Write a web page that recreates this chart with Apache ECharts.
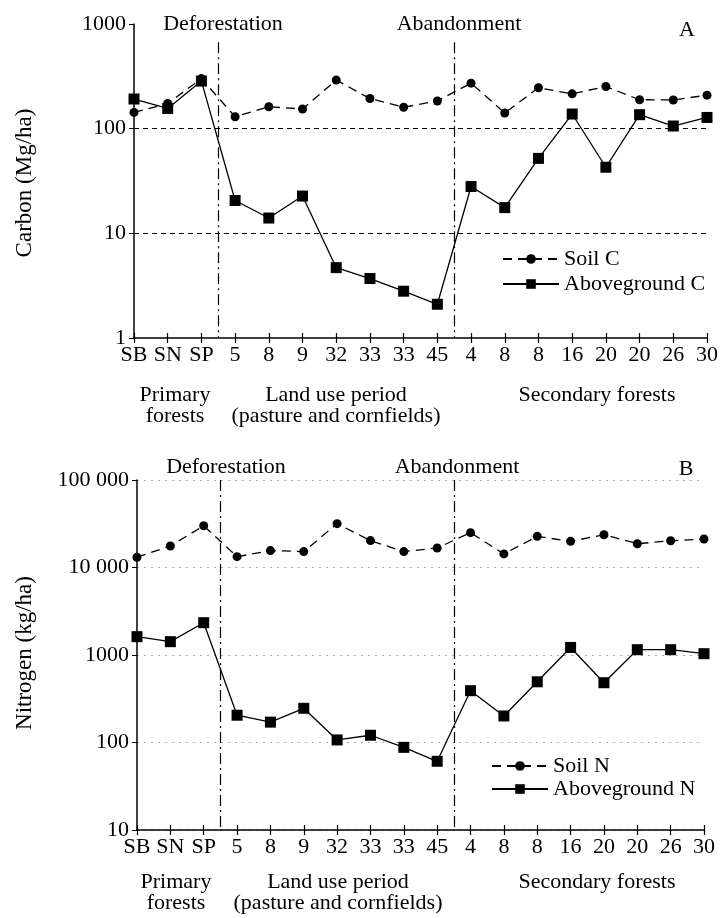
<!DOCTYPE html>
<html>
<head>
<meta charset="utf-8">
<script src="https://cdn.jsdelivr.net/npm/echarts@6/dist/echarts.min.js"></script>
<style>
  html, body { margin: 0; padding: 0; background: #fff; }
  #main { width: 722px; height: 918px; }
</style>
</head>
<body>
<div id="main"></div>
<script>
// site ages / forest types along the chronosequence
var cats = ['SB', 'SN', 'SP', '5', '8', '9', '32', '33', '33', '45', '4', '8', '8', '16', '20', '20', '26', '30'];

// panel A, carbon (Mg/ha)
var soilC = [143, 174, 301, 130, 162, 154, 291, 194, 160, 184, 272, 141, 246, 215, 253, 189, 188, 209];
var aboveC = [192, 156, 285, 20.6, 14, 22.7, 4.7, 3.7, 2.8, 2.1, 28, 17.6, 52, 138, 42.8, 136, 106, 128];

// panel B, nitrogen (kg/ha)
var soilN = [13100, 17600, 30000, 13300, 15600, 15200, 31700, 20300, 15200, 16700, 25000, 14300, 22700, 19900, 23700, 18700, 20200, 21200];
var aboveN = [1620, 1420, 2340, 205, 171, 246, 107, 121, 88, 61, 391, 201, 494, 1220, 482, 1150, 1150, 1035];

// boundaries between periods (between category indexes)
var deforestAt = 2.5;
var abandonAt = 9.5;

var FONT = 'Liberation Serif';
var FS = 22;

function pairs(arr) {
    return arr.map(function (v, i) { return [i, v]; });
}

// 10 000 style, but 1000 stays plain
function spaced(v) {
    if (v >= 10000) return String(v).replace(/\B(?=(\d{3})+(?!\d))/g, ' ');
    return String(v);
}

function xAxisMain(gi) {
    return {
        gridIndex: gi,
        type: 'value',
        min: 0,
        max: cats.length - 1,
        interval: 1,
        position: 'bottom',
        axisLine: { show: true, lineStyle: { color: '#000', width: 1.5 } },
        axisTick: { show: true, length: 5, lineStyle: { color: '#000', width: 1.2 } },
        axisLabel: {
            margin: 6,
            color: '#000',
            fontFamily: FONT,
            fontSize: FS,
            formatter: function (v) { return cats[v]; }
        },
        splitLine: { show: false }
    };
}

// second axis on the same line, only for the ticks pointing up
function xAxisInner(gi) {
    return {
        gridIndex: gi,
        type: 'value',
        min: 0,
        max: cats.length - 1,
        interval: 1,
        position: 'bottom',
        axisLine: { show: false },
        axisTick: { show: true, inside: true, length: 5, lineStyle: { color: '#000', width: 1.2 } },
        axisLabel: { show: false },
        splitLine: { show: false }
    };
}

var dashDot = [11, 4, 2, 4];
var titleStyle = { fontFamily: FONT, fontSize: FS, fontWeight: 'normal', color: '#000' };

var option = {
    backgroundColor: '#fff',
    animation: false,
    textStyle: { fontFamily: FONT, color: '#000' },
    grid: [
        { left: 134, top: 24, right: 15, height: 314 },
        { left: 137, top: 480, right: 18, height: 350 }
    ],
    title: [
        { text: 'Deforestation', left: 218, top: 8, textAlign: 'center', textStyle: titleStyle },
        { text: 'Abandonment', left: 454, top: 8, textAlign: 'center', textStyle: titleStyle },
        { text: 'A', left: 682, top: 14, textAlign: 'center', textStyle: titleStyle },
        { text: 'Deforestation', left: 221, top: 451, textAlign: 'center', textStyle: titleStyle },
        { text: 'Abandonment', left: 452, top: 451, textAlign: 'center', textStyle: titleStyle },
        { text: 'B', left: 681, top: 453, textAlign: 'center', textStyle: titleStyle }
    ],
    legend: [
        {
            data: ['Soil C', 'Aboveground C'],
            orient: 'vertical',
            left: 497,
            top: 243,
            itemWidth: 56,
            itemHeight: 12,
            itemGap: 3,
            textStyle: { fontFamily: FONT, fontSize: FS, color: '#000' }
        },
        {
            data: ['Soil N', 'Aboveground N'],
            orient: 'vertical',
            left: 486,
            top: 750,
            itemWidth: 56,
            itemHeight: 12,
            itemGap: 1,
            textStyle: { fontFamily: FONT, fontSize: FS, color: '#000' }
        }
    ],
    xAxis: [xAxisMain(0), xAxisInner(0), xAxisMain(1), xAxisInner(1)],
    yAxis: [
        {
            gridIndex: 0,
            type: 'log',
            logBase: 10,
            min: 1,
            max: 1000,
            axisLine: { show: true, lineStyle: { color: '#000', width: 1.5 } },
            axisTick: { show: true, length: 5, lineStyle: { color: '#000' } },
            axisLabel: { margin: 8, color: '#000', fontFamily: FONT, fontSize: FS, formatter: spaced },
            splitLine: { show: false }
        },
        {
            gridIndex: 1,
            type: 'log',
            logBase: 10,
            min: 10,
            max: 100000,
            axisLine: { show: true, lineStyle: { color: '#000', width: 1.5 } },
            axisTick: { show: true, length: 5, lineStyle: { color: '#000' } },
            axisLabel: { margin: 8, color: '#000', fontFamily: FONT, fontSize: FS, formatter: spaced },
            splitLine: { show: true, lineStyle: { color: '#aaa', width: 1, type: [2, 5] } }
        }
    ],
    graphic: [
        { type: 'text', x: 25, y: 183, rotation: Math.PI / 2, style: { text: 'Carbon (Mg/ha)', font: '23px ' + FONT, fill: '#000', align: 'center', verticalAlign: 'middle' } },
        { type: 'text', x: 25, y: 653, rotation: Math.PI / 2, style: { text: 'Nitrogen (kg/ha)', font: '23px ' + FONT, fill: '#000', align: 'center', verticalAlign: 'middle' } },

        { type: 'text', x: 175, y: 385, style: { text: 'Primary\nforests', font: FS + 'px ' + FONT, fill: '#000', align: 'center', lineHeight: 21 } },
        { type: 'text', x: 336, y: 385, style: { text: 'Land use period\n(pasture and cornfields)', font: FS + 'px ' + FONT, fill: '#000', align: 'center', lineHeight: 21 } },
        { type: 'text', x: 597, y: 385, style: { text: 'Secondary forests', font: FS + 'px ' + FONT, fill: '#000', align: 'center', lineHeight: 21 } },

        { type: 'text', x: 176, y: 872, style: { text: 'Primary\nforests', font: FS + 'px ' + FONT, fill: '#000', align: 'center', lineHeight: 21 } },
        { type: 'text', x: 338, y: 872, style: { text: 'Land use period\n(pasture and cornfields)', font: FS + 'px ' + FONT, fill: '#000', align: 'center', lineHeight: 21 } },
        { type: 'text', x: 597, y: 872, style: { text: 'Secondary forests', font: FS + 'px ' + FONT, fill: '#000', align: 'center', lineHeight: 21 } }
    ],
    series: [
        {
            name: 'Soil C',
            type: 'line',
            xAxisIndex: 0,
            yAxisIndex: 0,
            data: pairs(soilC),
            symbol: 'circle',
            symbolSize: 9,
            itemStyle: { color: '#000' },
            lineStyle: { color: '#000', width: 1.3, type: [9, 6] },
            z: 3,
            markLine: {
                silent: true,
                symbol: 'none',
                label: { show: false },
                animation: false,
                data: [
                    [{ coord: [deforestAt, 670], lineStyle: { type: dashDot, width: 1.2, color: '#000' } }, { coord: [deforestAt, 1] }],
                    [{ coord: [abandonAt, 670], lineStyle: { type: dashDot, width: 1.2, color: '#000' } }, { coord: [abandonAt, 1] }],
                    { yAxis: 100, lineStyle: { type: [5, 4], width: 1.2, color: '#000' } },
                    { yAxis: 10, lineStyle: { type: [5, 4], width: 1.2, color: '#000' } }
                ]
            }
        },
        {
            name: 'Aboveground C',
            type: 'line',
            xAxisIndex: 0,
            yAxisIndex: 0,
            data: pairs(aboveC),
            symbol: 'rect',
            symbolSize: 11,
            itemStyle: { color: '#000' },
            lineStyle: { color: '#000', width: 1.3, type: 'solid' },
            z: 3
        },
        {
            name: 'Soil N',
            type: 'line',
            xAxisIndex: 2,
            yAxisIndex: 1,
            data: pairs(soilN),
            symbol: 'circle',
            symbolSize: 9,
            itemStyle: { color: '#000' },
            lineStyle: { color: '#000', width: 1.3, type: [9, 6] },
            z: 3,
            markLine: {
                silent: true,
                symbol: 'none',
                label: { show: false },
                animation: false,
                data: [
                    [{ coord: [deforestAt, 100000], lineStyle: { type: dashDot, width: 1.2, color: '#000' } }, { coord: [deforestAt, 10] }],
                    [{ coord: [abandonAt, 100000], lineStyle: { type: dashDot, width: 1.2, color: '#000' } }, { coord: [abandonAt, 10] }]
                ]
            }
        },
        {
            name: 'Aboveground N',
            type: 'line',
            xAxisIndex: 2,
            yAxisIndex: 1,
            data: pairs(aboveN),
            symbol: 'rect',
            symbolSize: 11,
            itemStyle: { color: '#000' },
            lineStyle: { color: '#000', width: 1.3, type: 'solid' },
            z: 3
        }
    ]
};

var dom = document.getElementById('main');
var myChart = echarts.init(dom);
myChart.setOption(option, true);
</script>
</body>
</html>
